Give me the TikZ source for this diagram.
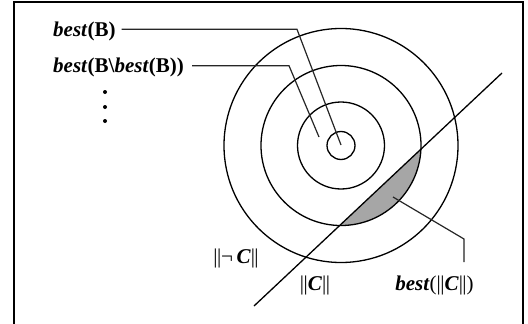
\documentclass[tikz,border=0pt]{standalone}
\usepackage{fontspec}
\setmainfont{Liberation Serif}
\newcommand{\bb}[1]{\textbf{\textit{#1}}}
\newcommand{\nrm}[1]{\textbar\kern-0.5pt\textbar#1\textbar\kern-0.5pt\textbar}
\begin{document}
\begin{tikzpicture}[x=1pt,y=-1pt,
  lbl/.style={inner sep=0pt,font=\fontsize{21}{24}\selectfont},
  ln/.style={line width=1.3pt},
  ldr/.style={line width=1.2pt,black!85}]
\useasboundingbox (0,0) rectangle (528,324);
\fill[white] (0,0) rectangle (528,324);
% frame
\draw[line width=2pt] (14,330) -- (14,2) -- (523,2) -- (523,330);
% centre
\coordinate (c) at (341,145.5);
% shaded segment
\begin{scope}
  \clip (750,-160) -- (6,539) -- (800,800) -- cycle;
  \fill[gray!70] (c) circle[radius=80pt];
\end{scope}
% circles
\draw[ln] (c) circle[radius=14pt];
\draw[ln] (c) circle[radius=43.5pt];
\draw[ln] (c) circle[radius=80pt];
\draw[ln] (c) circle[radius=117pt];
% line
\coordinate (la) at (502,73);
\coordinate (lb) at (254,306);
\draw[ln] (la) -- (lb);
% labels
\node[lbl,anchor=base west] (b1) at (53,36.5) {\bb{best}\textbf{(B)}};
\node[lbl,anchor=base west] (b2) at (53,72) {\bb{best}\textbf{(B\textbackslash}\bb{best}\textbf{(B))}};
\coordinate (e1) at (341,145);
\coordinate (e2) at (319,137);
\draw[ldr] (b1.east |- 0,29.3) ++(6,0) -- (297,29.3) -- (e1);
\draw[ldr] (b2.east |- 0,65.7) ++(8,0) -- (289,65.7) -- (e2);
% dots
\fill (105,92) circle[radius=2pt];
\fill (105,107) circle[radius=2pt];
\fill (105,121) circle[radius=2pt];
% bottom labels
\node[lbl] (nc) at (236,258) {\nrm{¬\,\bb{C}}};
\node[lbl] (cc) at (315,285.5) {\nrm{\bb{C}}};
\node[lbl] (bc) at (434.5,285.5) {\bb{best}(\nrm{\bb{C}})};
\coordinate (s) at (393,197);
\draw[ldr] (s) -- (464,239) -- (464,262);
\end{tikzpicture}
\end{document}
